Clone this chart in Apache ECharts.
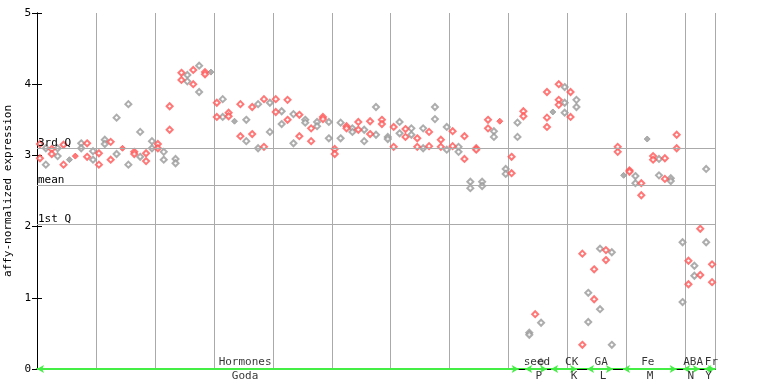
<!DOCTYPE html>
<html>
<head>
<meta charset="utf-8">
<script src="https://cdn.jsdelivr.net/npm/echarts@6/dist/echarts.min.js"></script>
<style>html,body{margin:0;padding:0;background:#fff}#c{width:768px;height:384px}</style>
</head>
<body>
<div id="c"></div>
<script>
// replicate values per sample column (0..114)
const rep1 = [3.16,3.10,3.09,3.10,3.15,2.94,2.99,3.17,3.17,3.06, 3.03,3.22,3.19,3.53,3.10,3.72,3.05,3.33,3.03,3.20,
  3.16,3.05,3.69,2.95,4.16,4.13,4.20,4.26,4.17,4.17, 3.74,3.79,3.60,3.48,3.72,3.50,3.68,3.72,3.79,3.74,
  3.79,3.62,3.78,3.58,3.57,3.50,3.38,3.47,3.54,3.47, 3.09,3.46,3.41,3.38,3.47,3.36,3.48,3.68,3.50,3.26,
  3.40,3.47,3.37,3.38,3.24,3.38,3.33,3.68,3.22,3.40, 3.34,3.12,3.27,2.63,3.10,2.63,3.50,3.34,3.48,2.81,
  2.98,3.46,3.62,0.51,0.77,0.65,3.89,3.61,4.00,3.96, 3.89,3.78,1.62,1.07,1.40,1.69,1.67,1.64,3.12,2.72,
  2.79,2.71,2.61,3.23,2.99,2.95,2.96,2.68,3.29,1.78, 1.52,1.45,1.97,2.81,1.47];
const rep2 = [2.96,2.87,3.02,2.99,2.87,2.94,2.99,3.10,2.98,2.94, 2.87,3.16,2.94,3.02,3.10,2.87,3.02,2.98,2.92,3.10,
  3.10,2.94,3.36,2.89,4.06,4.04,4.00,3.89,4.14,4.17, 3.54,3.54,3.55,3.48,3.27,3.20,3.30,3.10,3.12,3.33,
  3.61,3.44,3.50,3.17,3.27,3.46,3.20,3.41,3.51,3.24, 3.02,3.24,3.38,3.33,3.36,3.20,3.30,3.29,3.44,3.23,
  3.12,3.31,3.26,3.29,3.12,3.10,3.13,3.51,3.12,3.08, 3.13,3.05,2.95,2.54,3.08,2.57,3.38,3.26,3.48,2.74,
  2.75,3.26,3.55,0.48,null,0.10,3.53,3.61,3.78,3.74, 3.54,3.68,0.34,0.66,0.98,0.84,1.53,0.34,3.05,2.72,
  2.77,2.61,2.44,3.23,2.94,2.72,2.67,2.64,3.10,0.94, 1.19,1.31,1.32,1.78,1.22];
// extra replicates: [column, value]
const extra = [[86,3.40],[88,3.71],[89,3.60]];

// summary lines
const stats = [{name:'3rd Q', value:3.10},{name:'mean', value:2.58},{name:'1st Q', value:2.03}];

// experiment groups
const groupTop = ['Hormones','seed','CK','GA','Fe','ABA','Fr'];
const groupBottom = ['Goda','P','K','L','M','N','Y'];
const topCenter = [35.3,84.8,90.7,95.7,103.6,111.3,114.4];
const bottomCenter = [35.3,85.1,91.1,96.0,104.0,110.9,113.9];
const spanStart = [0,82.8,87.2,93.3,99.4,109.6,113.2];
const spanEnd = [81.7,86.5,91.6,97.7,108.5,112.4,115];

const yTicks = [0,1,2,3,4,5];

const FONT = 'DejaVu Sans Mono';
const RED = '#ff5555', GRAY = '#999999';

const redPts = [], grayPts = [];
function push(i, v, filled){
  if (v === null || v === undefined) return;
  const p = {value:[i+0.5, v], symbol: filled ? 'diamond' : 'emptyDiamond'};
  (i % 2 === 0 ? redPts : grayPts).push(p);
}
for (let i = 0; i < rep1.length; i++) {
  const same = rep1[i] === rep2[i];
  push(i, rep1[i], same);
  if (!same) push(i, rep2[i], false);
}
extra.forEach(e => push(e[0], e[1], false));

const chart = echarts.init(document.getElementById('c'), null, {renderer:'canvas'});
chart.setOption({
  animation:false,
  grid:{left:37, right:53, top:13, bottom:15, containLabel:false, outerBoundsMode:'none'},
  xAxis:[{
    type:'value', min:0, max:115, interval:10,
    axisLine:{show:true, onZero:false, lineStyle:{color:'#33ee33', width:2}},
    axisTick:{show:false}, axisLabel:{show:false},
    splitLine:{show:true, lineStyle:{color:'#aaaaaa', width:1}}
  },{
    type:'value', position:'top', min:0, max:115,
    axisLine:{show:true, lineStyle:{color:'#000', width:1}},
    axisTick:{show:false}, axisLabel:{show:false}, splitLine:{show:false}
  }],
  yAxis:[{
    type:'value', min:0, max:5, interval:1,
    name:'affy-normalized expression', nameLocation:'middle', nameGap:21,
    nameTextStyle:{fontFamily:FONT, fontSize:11, color:'#000'},
    axisLine:{show:true, lineStyle:{color:'#000'}},
    axisTick:{show:true, inside:true, length:5, lineStyle:{color:'#000'}},
    axisLabel:{fontFamily:FONT, fontSize:11, color:'#000', margin:6,
      formatter: v => yTicks.includes(v) ? String(v) : ''},
    splitLine:{show:false}
  },{
    type:'value', min:0, max:5, interval:1, position:'right',
    axisLine:{show:true, lineStyle:{color:'#000'}},
    axisTick:{show:true, inside:true, length:5, lineStyle:{color:'#000'}},
    axisLabel:{show:false}, splitLine:{show:false}
  }],
  series:[
    {
      type:'scatter', name:'gray', data:grayPts, symbolSize:6,
      itemStyle:{color:GRAY, borderColor:GRAY, borderWidth:1}, z:3
    },
    {
      type:'scatter', name:'red', data:redPts, symbolSize:6,
      itemStyle:{color:RED, borderColor:RED, borderWidth:1}, z:4,
      markLine:{
        silent:true, symbol:'none', animation:false,
        lineStyle:{color:'#aaaaaa', type:'solid', width:1},
        label:{show:true, position:'insideStartTop', distance:[1,0], formatter:'{b}',
          fontFamily:FONT, fontSize:11, color:'#000'},
        emphasis:{disabled:true},
        data: stats.map(s => ({name:s.name, yAxis:s.value}))
      }
    },
    {
      type:'scatter', name:'groups', symbolSize:0, silent:true, z:5,
      data: groupTop.map((g,i) => ({value:[topCenter[i],0], name:g})),
      label:{show:true, position:'top', distance:1, formatter:'{b}', fontFamily:FONT, fontSize:11, color:'#000'},
      markLine:{
        silent:true, symbol:['arrow','arrow'], symbolSize:[6,7], animation:false,
        lineStyle:{color:'#44ee44', type:'solid', width:2},
        label:{show:false}, emphasis:{disabled:true},
        data: spanStart.map((s,i) => [{coord:[s,0]},{coord:[spanEnd[i],0]}])
      }
    },
    {
      type:'scatter', name:'groupsBottom', symbolSize:0, silent:true, z:5,
      data: groupBottom.map((g,i) => ({value:[bottomCenter[i],0], name:g})),
      label:{show:true, position:'bottom', distance:2, formatter:'{b}', fontFamily:FONT, fontSize:11, color:'#000'}
    }
  ]
});
</script>
</body>
</html>
